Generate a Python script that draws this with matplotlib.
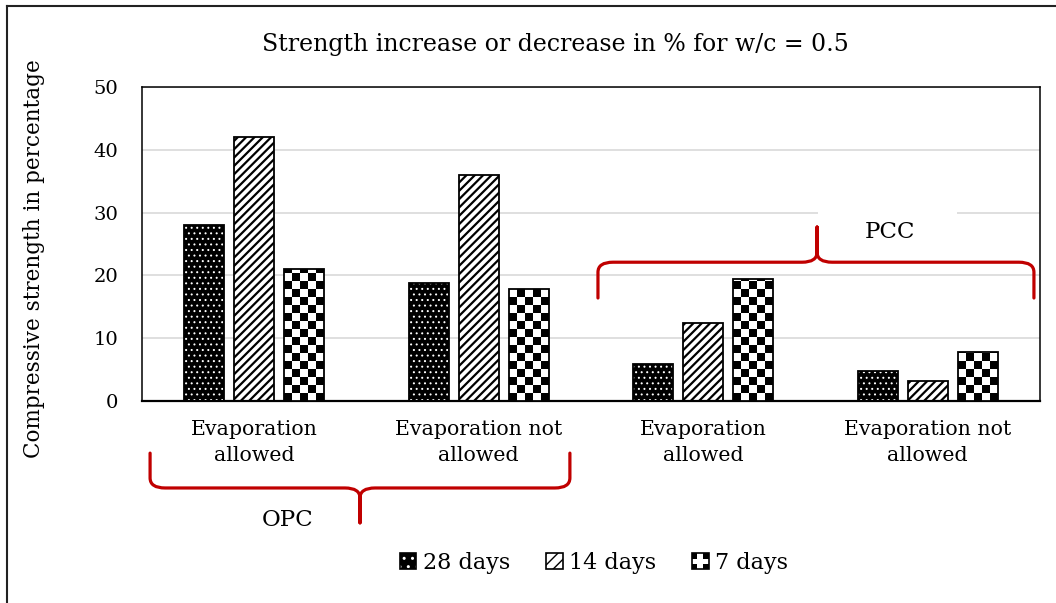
import numpy as np
import matplotlib
matplotlib.use("Agg")
import matplotlib.pyplot as plt
from matplotlib.patches import Patch, Rectangle, PathPatch
from matplotlib.path import Path
from matplotlib.lines import Line2D
from matplotlib.legend_handler import HandlerBase, HandlerTuple

# ---- data ----
categories = ["Evaporation\nallowed", "Evaporation not\nallowed",
              "Evaporation\nallowed", "Evaporation not\nallowed"]
days28 = [28, 18.8, 5.9, 4.8]
days14 = [42, 36, 12.5, 3.2]
days7 = [21, 17.8, 19.5, 7.8]
series_labels = ["28 days", "14 days", "7 days"]

plt.rcParams["font.family"] = ["DejaVu Serif"]
FS = 14.8
RED = "#c00000"

fig = plt.figure(figsize=(10.56, 6.03), dpi=100)
ax = fig.add_axes([142 / 1056, 202 / 603, 898 / 1056, 314 / 603])
ax.set_xlim(-0.5, 3.5)
ax.set_ylim(0, 50)

x = np.arange(len(categories))
w = 0.178
off = 0.2227

# 28 days: black with white dots
with plt.rc_context({"hatch.linewidth": 0.7}):
    ax.bar(x - off, days28, w, facecolor="black", edgecolor="white", hatch="...",
           linewidth=0, zorder=2)
# 14 days: diagonal stripes
with plt.rc_context({"hatch.linewidth": 1.6}):
    ax.bar(x, days14, w, facecolor="white", edgecolor="black", hatch="////",
           linewidth=0, zorder=2)
# 7 days: checkerboard
bars7 = ax.bar(x + off, days7, w, facecolor="white", linewidth=0, zorder=2)

# outlines
for vals, dx in [(days28, -off), (days14, 0), (days7, off)]:
    ax.bar(x + dx, vals, w, fill=False, edgecolor="black", linewidth=1.3, zorder=4)

# checker image inside each 7-day bar
ppu_y = ax.transData.transform((0, 1))[1] - ax.transData.transform((0, 0))[1]
ppu_x = ax.transData.transform((1, 0))[0] - ax.transData.transform((0, 0))[0]
ncol = 5
for rect in bars7:
    x0, bw, h = rect.get_x(), rect.get_width(), rect.get_height()
    cell_px = bw * ppu_x / ncol
    cell_y = cell_px / ppu_y
    nrow = int(np.ceil(h / cell_y))
    grid = (np.add.outer(np.arange(nrow), np.arange(ncol)) % 2).astype(float)
    im = ax.imshow(grid, cmap="gray", interpolation="nearest", aspect="auto",
                   origin="lower", extent=(x0, x0 + bw, 0, nrow * cell_y), zorder=3)
    im.set_clip_path(rect)

ax.set_xlim(-0.5, 3.5)
ax.set_ylim(0, 50)

ax.set_yticks(range(0, 51, 10))
ax.yaxis.grid(True, color="#d9d9d9", linewidth=1.2, zorder=0)
ax.set_axisbelow(True)
ax.set_xticks(x)
ax.set_xticklabels(categories, fontsize=FS, linespacing=1.45)
ax.tick_params(axis="y", length=0, pad=17, labelsize=14)
ax.tick_params(axis="x", length=0, pad=14)
for s in ax.spines.values():
    s.set_color("black")
    s.set_linewidth(1.1)
ax.spines["bottom"].set_linewidth(1.6)

ax.set_ylabel("Compressive strength in percentage", fontsize=15.5)
ax.yaxis.set_label_coords(-0.108, 0.455)


# ---- braces ----
def brace(x0, x1, xc, y_tip, y_line, y_spike, rx=0.067, ry=1.6):
    d = 1 if y_tip > y_line else -1
    verts = [(x0, y_tip), (x0, y_line + d * ry),
             (x0, y_line), (x0 + rx, y_line),
             (xc - rx, y_line),
             (xc, y_line), (xc, y_line - d * ry),
             (xc, y_spike),
             (xc, y_line - d * ry),
             (xc, y_line), (xc + rx, y_line),
             (x1 - rx, y_line),
             (x1, y_line), (x1, y_line + d * ry),
             (x1, y_tip)]
    codes = [Path.MOVETO, Path.LINETO,
             Path.CURVE3, Path.CURVE3,
             Path.LINETO,
             Path.CURVE3, Path.CURVE3,
             Path.LINETO,
             Path.LINETO,
             Path.CURVE3, Path.CURVE3,
             Path.LINETO,
             Path.CURVE3, Path.CURVE3,
             Path.LINETO]
    p = PathPatch(Path(verts, codes), fill=False, edgecolor=RED, linewidth=2.3,
                  capstyle="round", joinstyle="round", clip_on=False, zorder=6)
    ax.add_patch(p)


brace(-0.464, 1.406, 0.471, -8.3, -13.85, -19.4)
brace(1.531, 3.473, 2.507, 16.4, 22.1, 27.7)

# white label box of the PCC text (hides the gridline behind it)
ax.add_patch(Rectangle((2.51, 28.6), 0.62, 2.8, facecolor="white", edgecolor="none",
                       zorder=1))
ax.text(2.832, 26.9, "PCC", fontsize=16.5, ha="center", va="center", zorder=5)
ax.text(0.150, -18.9, "OPC", fontsize=16.5, ha="center", va="center")

fig.text(555 / 1056, 1 - 45 / 603, "Strength increase or decrease in % for w/c = 0.5",
         fontsize=17, ha="center", va="center")


# ---- legend ----
class CheckerHandler(HandlerBase):
    def create_artists(self, legend, orig_handle, xdescent, ydescent, width, height,
                       fontsize, trans):
        arts = [Rectangle((-xdescent, -ydescent), width, height, facecolor="white",
                          edgecolor="black", linewidth=1.2, transform=trans)]
        n = 3
        cw, ch = width / n, height / n
        for i in range(n):
            for j in range(n):
                if (i + j) % 2 == 0 and not (i == 1 and j == 1):
                    arts.append(Rectangle((-xdescent + i * cw, -ydescent + j * ch), cw, ch,
                                          facecolor="black", linewidth=0, transform=trans))
        return arts


with plt.rc_context({"hatch.linewidth": 1.0}):
    h28 = (Patch(facecolor="black", edgecolor="white", hatch="..", linewidth=0),
           Patch(fill=False, edgecolor="black", linewidth=1.2))
    h14 = (Patch(facecolor="white", edgecolor="black", hatch="///", linewidth=0),
           Patch(fill=False, edgecolor="black", linewidth=1.2))
h7 = Patch(facecolor="white")

fig.legend([h28, h14, h7], series_labels, loc="center", ncol=3,
           bbox_to_anchor=(594 / 1056, 1 - 563 / 603), frameon=False, fontsize=16,
           handlelength=0.75, handleheight=0.75, handletextpad=0.3, columnspacing=1.6,
           handler_map={tuple: HandlerTuple(ndivide=1), h7: CheckerHandler()})

# outer frame (top and left edges visible)
fig.add_artist(Line2D([7 / 1056, 1], [1 - 6 / 603, 1 - 6 / 603], color="#222222",
                      linewidth=1.5, transform=fig.transFigure))
fig.add_artist(Line2D([7 / 1056, 7 / 1056], [0, 1 - 6 / 603], color="#222222",
                      linewidth=1.5, transform=fig.transFigure))

fig.savefig("out.png", dpi=100)
